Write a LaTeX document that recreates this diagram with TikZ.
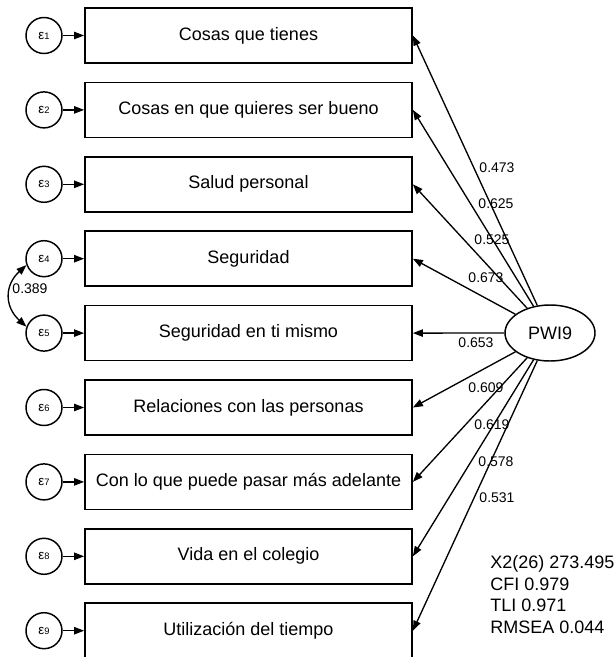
\documentclass[tikz,border=0pt]{standalone}
\usepackage{fontspec}
\setmainfont{Liberation Sans}
\usepackage{tikz}
\usetikzlibrary{arrows.meta,shapes.geometric}

\begin{document}
\begin{tikzpicture}[x=0.75pt,y=0.75pt,yscale=-1,xscale=1,
	item/.style={draw,line width=1.3pt,minimum width=245.25pt,minimum height=41.25pt,inner sep=0pt,font=\fontsize{13.5}{16}\selectfont},
	err/.style={draw,circle,line width=1.1pt,minimum size=27pt,inner sep=0pt,font=\fontsize{10}{10}\selectfont},
	lat/.style={draw,ellipse,line width=1.1pt,minimum width=67.5pt,minimum height=42pt,inner sep=0pt,font=\fontsize{13.5}{16}\selectfont},
	lab/.style={inner sep=0pt,font=\fontsize{10.5}{12}\selectfont},
	tip/.style={-{Triangle[length=7.5pt,width=5.5pt]},line width=1pt}]
			\useasboundingbox (0,0) rectangle (615,657);
			% Items
			\node (c1) [item] at (248.5,35.5) {Cosas que tienes};
			\node (c2) [item] at (248.5,109.9) {Cosas en que quieres ser bueno};
			\node (c3) [item] at (248.5,184.3) {Salud personal};
			\node (c4) [item] at (248.5,258.7) {Seguridad};
			\node (c5) [item] at (248.5,333.1) {Seguridad en ti mismo};
			\node (c6) [item] at (248.5,407.5) {Relaciones con las personas};
			\node (c7) [item] at (248.5,481.9) {Con lo que puede pasar más adelante};
			\node (c8) [item] at (248.5,556.3) {Vida en el colegio};
			\node (c9) [item] at (248.5,630.7) {Utilización del tiempo};
			% Fehler
			\node (e1) [err] at (44,35.5) {ε{\fontsize{7}{7}\selectfont 1}};
			\node (e2) [err] at (44,109.9) {ε{\fontsize{7}{7}\selectfont 2}};
			\node (e3) [err] at (44,184.3) {ε{\fontsize{7}{7}\selectfont 3}};
			\node (e4) [err] at (44,258.7) {ε{\fontsize{7}{7}\selectfont 4}};
			\node (e5) [err] at (44,333.1) {ε{\fontsize{7}{7}\selectfont 5}};
			\node (e6) [err] at (44,407.5) {ε{\fontsize{7}{7}\selectfont 6}};
			\node (e7) [err] at (44,481.9) {ε{\fontsize{7}{7}\selectfont 7}};
			\node (e8) [err] at (44,556.3) {ε{\fontsize{7}{7}\selectfont 8}};
			\node (e9) [err] at (44,630.7) {ε{\fontsize{7}{7}\selectfont 9}};
			% PWI9
			\node (pwi) [lat] at (550,333) {PWI9};
			% Fehler -> Items
			\draw [tip] (e1) -- (c1);
			\draw [tip] (e2) -- (c2);
			\draw [tip] (e3) -- (c3);
			\draw [tip] (e4) -- (c4);
			\draw [tip] (e5) -- (c5);
			\draw [tip] (e6) -- (c6);
			\draw [tip] (e7) -- (c7);
			\draw [tip] (e8) -- (c8);
			\draw [tip] (e9) -- (c9);
			% Ladungen
			\draw [tip] (pwi) -- (c1.east);
			\draw [tip] (pwi) -- (c2.east);
			\draw [tip] (pwi) -- (c3.east);
			\draw [tip] (pwi) -- (c4.east);
			\draw [tip] (pwi) -- (c5.east);
			\draw [tip] (pwi) -- (c6.east);
			\draw [tip] (pwi) -- (c7.east);
			\draw [tip] (pwi) -- (c8.east);
			\draw [tip] (pwi) -- (c9.east);
			% Kovarianz
			\draw [{Triangle[length=7.5pt,width=5.5pt]}-{Triangle[length=7.5pt,width=5.5pt]},line width=1pt] (e4.200) .. controls +(-22,20) and +(-22,-20) .. (e5.160);
			\node (k45) [lab] at (30,289) {0.389};
			% Werte
			\node (l1) [lab] at (497,168) {0.473};
			\node (l2) [lab] at (496,204) {0.625};
			\node (l3) [lab] at (492,240) {0.525};
			\node (l4) [lab] at (486,278) {0.673};
			\node (l5) [lab] at (476,343) {0.653};
			\node (l6) [lab] at (486,388) {0.609};
			\node (l7) [lab] at (492,425) {0.619};
			\node (l8) [lab] at (496,462) {0.578};
			\node (l9) [lab] at (497,498) {0.531};
			% Fit
			\node (fit) [anchor=north west,inner sep=0pt,align=left,font=\fontsize{13.5}{16.3}\selectfont] at (490,555) {X2(26) 273.495\\CFI 0.979\\TLI 0.971\\RMSEA 0.044};
		\end{tikzpicture}
\end{document}
